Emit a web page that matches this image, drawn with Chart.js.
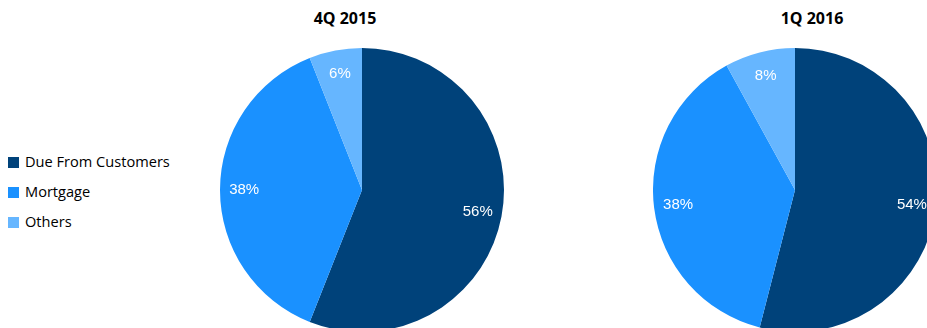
<!DOCTYPE html>
<html>
<head>
<meta charset="utf-8">
<script src="https://cdn.jsdelivr.net/npm/chart.js@4"></script>
<style>
  html, body { margin: 0; padding: 0; width: 927px; height: 328px; overflow: hidden; background: #fff; }
  .pie { position: absolute; top: 48px; }
  .ttl { position: absolute; top: 7px; font: bold 16px "Open Sans", sans-serif; color: #000; transform: translateX(-50%); white-space: nowrap; }
  #legend { position: absolute; left: 8px; top: 150px; font: 14.6px "Open Sans", sans-serif; color: #000; }
  #legend div { height: 30px; line-height: 22px; white-space: nowrap; }
  #legend span { display: inline-block; width: 11px; height: 11px; margin-right: 6px; vertical-align: -1px; }
</style>
</head>
<body>
<div id="legend"></div>
<div class="ttl" style="left:345px">4Q 2015</div>
<div class="ttl" style="left:812px">1Q 2016</div>
<canvas id="c1" class="pie" width="284" height="284" style="left:220px"></canvas>
<canvas id="c2" class="pie" width="284" height="284" style="left:653px"></canvas>
<script>
var categories = ['Due From Customers', 'Mortgage', 'Others'];
var q4_2015 = [56, 38, 6];
var q1_2016 = [54, 38, 8];
var colors = ['#00427a', '#1a91ff', '#66b6ff'];

// legend
var lg = document.getElementById('legend');
for (var i = 0; i < categories.length; i++) {
	lg.innerHTML += "<div><span style='background:" + colors[i] + "'></span>" + categories[i] + "</div>";
}

// percent labels inside slices
var pctLabels = {
	id: 'pctLabels',
	afterDatasetsDraw: function(chart) {
		var ctx = chart.ctx;
		var meta = chart.getDatasetMeta(0);
		var vals = chart.data.datasets[0].data;
		ctx.save();
		ctx.fillStyle = '#fff';
		ctx.font = '15px "Liberation Sans", Arial, sans-serif';
		ctx.textAlign = 'center';
		ctx.textBaseline = 'middle';
		meta.data.forEach(function(arc, i) {
			var mid = (arc.startAngle + arc.endAngle) / 2;
			var r = arc.outerRadius * 0.83;
			ctx.fillText(vals[i] + '%', arc.x + Math.cos(mid) * r, arc.y + Math.sin(mid) * r);
		});
		ctx.restore();
	}
};

function makePie(id, values) {
	return new Chart(document.getElementById(id), {
		type: 'pie',
		data: {
			labels: categories,
			datasets: [{ data: values, backgroundColor: colors, borderWidth: 0 }]
		},
		options: {
			responsive: false,
			animation: false,
			layout: { padding: 0 },
			plugins: { legend: { display: false }, tooltip: { enabled: false } }
		},
		plugins: [pctLabels]
	});
}

makePie('c1', q4_2015);
makePie('c2', q1_2016);
</script>
</body>
</html>
